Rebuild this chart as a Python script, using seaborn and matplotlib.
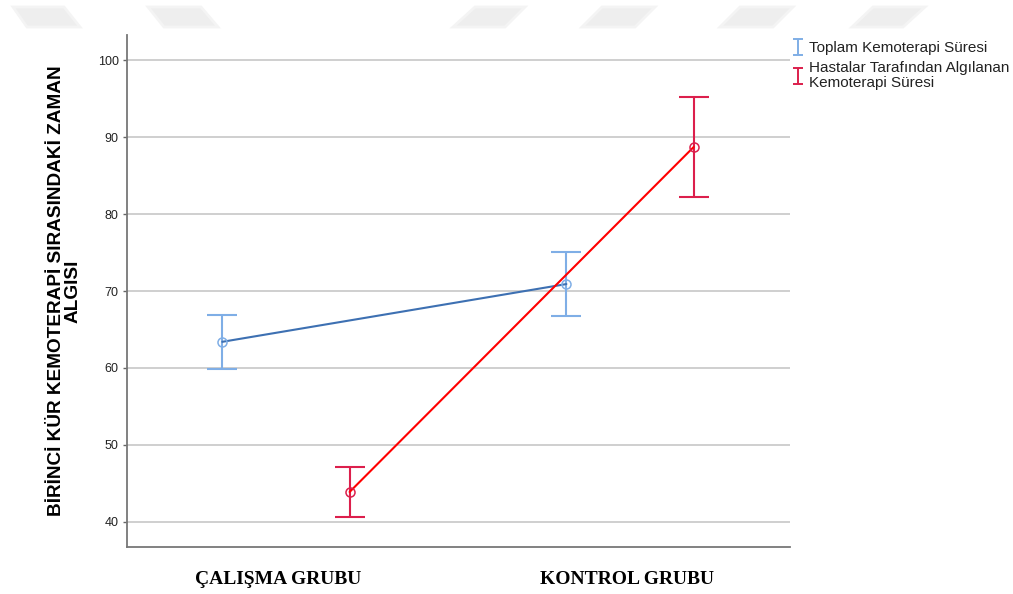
import matplotlib
matplotlib.use("Agg")
import matplotlib.pyplot as plt
import seaborn as sns
import pandas as pd
from matplotlib.patches import Polygon
from matplotlib.path import Path
from matplotlib.lines import Line2D

# Group means with their 95% confidence limits
groups = ["ÇALIŞMA GRUBU", "KONTROL GRUBU"]
series = ["Toplam Kemoterapi Süresi",
          "Hastalar Tarafından Algılanan\nKemoterapi Süresi"]
toplam_mean = [63.4, 70.9]
toplam_low = [59.9, 66.7]
toplam_high = [66.9, 75.1]
algilanan_mean = [43.9, 88.7]
algilanan_low = [40.6, 82.2]
algilanan_high = [47.1, 95.2]
y_ticks = [40, 50, 60, 70, 80, 90, 100]
y_label = "BİRİNCİ KÜR KEMOTERAPİ SIRASINDAKİ ZAMAN\nALGISI"

# styling
dodge = {series[0]: -0.185, series[1]: 0.185}
label_nudge = [-0.023, -0.009]
line_colors = {series[0]: "#3d70b2", series[1]: "#ff0000"}
bar_colors = {series[0]: "#7faee6", series[1]: "#dc1f4c"}

rows = []
for s, m, lo, hi in [(series[0], toplam_mean, toplam_low, toplam_high),
                     (series[1], algilanan_mean, algilanan_low, algilanan_high)]:
    for i, g in enumerate(groups):
        rows.append({"grup": g, "seri": s, "x": i + dodge[s],
                     "ort": m[i], "alt": lo[i], "ust": hi[i]})
df = pd.DataFrame(rows)

sns.set_theme(style="white")
plt.rcParams["font.family"] = ["Liberation Sans", "DejaVu Sans"]

fig = plt.figure(figsize=(10.13, 5.94), dpi=100)
ax = fig.add_axes([127 / 1013, 47 / 594, 663 / 1013, 512 / 594])

# faint header decoration
def px_poly(pts):
    return [(x / 1013, 1 - y / 594) for x, y in pts]

header_shapes = [
    [(13, 7), (64, 7), (80, 27), (27, 27)],
    [(148, 7), (201, 7), (218, 27), (164, 27)],
    [(475, 7), (525, 7), (505, 27), (453, 27)],
    [(602, 7), (655, 7), (635, 27), (582, 27)],
    [(740, 7), (793, 7), (773, 27), (720, 27)],
    [(873, 7), (925, 7), (903, 27), (852, 27)],
]
for shp in header_shapes:
    fig.patches.append(Polygon(px_poly(shp), closed=True, transform=fig.transFigure,
                               facecolor="#eeeeee", edgecolor="#f4f4f4",
                               linewidth=2, zorder=0))

# connecting lines
for s in series:
    sns.lineplot(data=df[df["seri"] == s], x="x", y="ort", color=line_colors[s],
                 linewidth=1.5, estimator=None, sort=False, ax=ax,
                 zorder=4 if s == series[1] else 3)

# error bars and hollow markers
for s in series:
    sub = df[df["seri"] == s]
    err = [sub["ort"] - sub["alt"], sub["ust"] - sub["ort"]]
    ax.errorbar(sub["x"], sub["ort"], yerr=err, fmt="none", ecolor=bar_colors[s],
                elinewidth=1.5, capsize=11, capthick=1.5, zorder=2)
    ax.plot(sub["x"], sub["ort"], "o", mfc="none", mec=bar_colors[s],
            mew=1.1, ms=6.5, zorder=5)

ax.set_xlim(-0.462, 1.465)
ax.set_ylim(36.75, 103.25)
ax.set_yticks(y_ticks)
ax.set_xticks([i + d for i, d in enumerate(label_nudge)])
ax.set_xticklabels(groups, fontfamily="Liberation Serif", fontweight="bold",
                   fontsize=14, color="black")
ax.tick_params(axis="x", length=0, pad=17)
ax.tick_params(axis="y", length=3, width=1, color="#666666", labelsize=9,
               labelcolor="#222222", pad=3, left=True)
ax.yaxis.grid(True, color="#cccccc", linewidth=1.3)
ax.xaxis.grid(False)
ax.set_axisbelow(True)

for side in ["top", "right"]:
    ax.spines[side].set_visible(False)
for side in ["left", "bottom"]:
    ax.spines[side].set_color("#777777")
    ax.spines[side].set_linewidth(1.3)

ax.set_xlabel("")
ax.set_ylabel(y_label, fontsize=13.7, fontweight="bold", color="black",
              linespacing=0.95)
ax.yaxis.set_label_coords(-0.069, 0.5)

# legend with small capped-bar symbols
ibeam = Path([(-0.7, -1), (0.7, -1), (0, -1), (0, 1), (-0.7, 1), (0.7, 1)],
             [Path.MOVETO, Path.LINETO, Path.MOVETO, Path.LINETO,
              Path.MOVETO, Path.LINETO])
handles = [Line2D([], [], linestyle="none", marker=ibeam, markersize=11,
                  mfc="none", mec=bar_colors[s], mew=1.4) for s in series]
leg = ax.legend(handles, series, loc="upper left", bbox_to_anchor=(1.0, 0.994),
                frameon=False, fontsize=11, handlelength=0.6, handletextpad=0.45,
                labelspacing=0.4, borderaxespad=0.2, borderpad=0)
for t in leg.get_texts():
    t.set_color("#222222")
    t.set_linespacing(1.08)

fig.savefig("out.png", dpi=100)
